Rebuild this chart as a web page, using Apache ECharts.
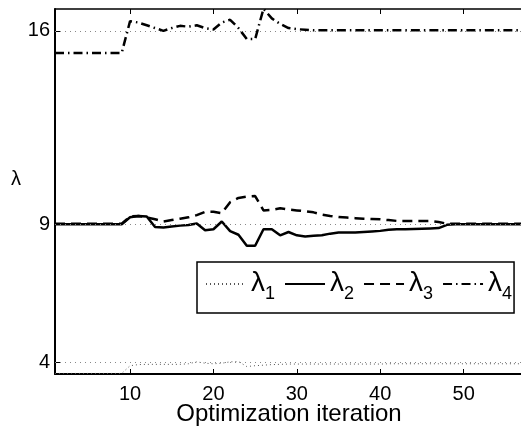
<!DOCTYPE html>
<html>
<head>
<meta charset="utf-8">
<script src="https://cdn.jsdelivr.net/npm/echarts@6/dist/echarts.min.js"></script>
<style>
  html, body { margin: 0; padding: 0; background: #fff; }
  #chart { width: 521px; height: 428px; }
</style>
</head>
<body>
<div id="chart"></div>
<script>
// Data
var iterations = [1,2,3,4,5,6,7,8,9,10,11,12,13,14,15,16,17,18,19,20,21,22,23,24,25,26,27,28,29,30,31,32,33,34,35,36,37,38,39,40,41,42,43,44,45,46,47,48,49,50,51,52,53,54,55,56,57];

var lambda1 = [3.6,3.6,3.6,3.6,3.6,3.6,3.6,3.6,3.6,3.88,3.92,3.93,3.93,3.93,3.93,3.93,3.95,4.02,3.97,3.95,3.97,4.02,4.03,3.85,3.88,3.9,3.92,3.93,3.94,3.94,3.94,3.94,3.94,3.94,3.94,3.94,3.94,3.94,3.94,3.94,3.95,3.95,3.95,3.95,3.95,3.95,3.95,3.95,3.95,3.95,3.95,3.95,3.95,3.95,3.95,3.95,3.95];

var lambda2 = [9.0,9.0,9.0,9.0,9.0,9.0,9.0,9.0,9.0,9.25,9.3,9.28,8.9,8.88,8.92,8.95,8.97,9.03,8.78,8.82,9.1,8.75,8.62,8.22,8.22,8.82,8.82,8.6,8.72,8.6,8.56,8.58,8.6,8.66,8.7,8.7,8.7,8.72,8.74,8.76,8.8,8.82,8.82,8.83,8.84,8.85,8.86,8.98,9.0,9.0,9.0,9.0,9.0,9.0,9.0,9.0,9.0];

var lambda3 = [9.02,9.02,9.02,9.02,9.02,9.02,9.02,9.02,9.02,9.28,9.3,9.25,9.18,9.1,9.15,9.2,9.25,9.33,9.45,9.45,9.4,9.8,9.95,10.0,10.02,9.5,9.52,9.58,9.53,9.5,9.47,9.43,9.35,9.3,9.26,9.24,9.22,9.2,9.19,9.18,9.15,9.12,9.12,9.12,9.12,9.12,9.08,9.02,9.02,9.02,9.02,9.02,9.02,9.02,9.02,9.02,9.02];

var lambda4 = [15.2,15.2,15.2,15.2,15.2,15.2,15.2,15.2,15.2,16.35,16.3,16.2,16.1,16.0,16.1,16.18,16.15,16.2,16.1,16.05,16.3,16.4,16.1,15.7,15.7,16.8,16.45,16.25,16.1,16.06,16.04,16.02,16.02,16.02,16.02,16.02,16.02,16.02,16.02,16.02,16.02,16.02,16.02,16.02,16.02,16.02,16.02,16.02,16.02,16.02,16.02,16.02,16.02,16.02,16.02,16.02,16.02];

var referenceValues = [4, 9, 16];
var yTickValues = [4, 9, 16];
var xTickValues = [10, 20, 30, 40, 50];
var seriesNames = ['λ1', 'λ2', 'λ3', 'λ4'];
var xTitle = 'Optimization iteration';
var yTitle = 'λ';

function pairs(vals) {
  return vals.map(function (v, i) { return [iterations[i], v]; });
}

var FONT = 'Liberation Sans, Arial, Helvetica, sans-serif';
var chart = echarts.init(document.getElementById('chart'), null, { renderer: 'canvas' });

var axisLineStyle = { color: '#000', width: 2 };

var option = {
  animation: false,
  backgroundColor: '#fff',
  grid: { left: 55, top: 9, right: -1, bottom: 54, containLabel: false, outerBoundsMode: 'none' },
  xAxis: [{
    type: 'value', min: 1, max: 57, position: 'bottom',
    axisLine: { show: true, lineStyle: axisLineStyle },
    axisTick: { show: true, inside: true, length: 5, customValues: xTickValues, lineStyle: { color: '#000', width: 1 } },
    axisLabel: { customValues: xTickValues, fontFamily: FONT, fontSize: 20, color: '#000', margin: 10 },
    splitLine: { show: false }
  }, {
    type: 'value', min: 1, max: 57, position: 'top',
    axisLine: { show: true, lineStyle: { color: '#000', width: 1.5 } },
    axisTick: { show: true, inside: true, length: 5, customValues: xTickValues, lineStyle: { color: '#000', width: 1 } },
    axisLabel: { show: false },
    splitLine: { show: false }
  }],
  yAxis: [{
    type: 'value', min: 3.58, max: 16.79,
    axisLine: { show: true, lineStyle: axisLineStyle },
    axisTick: { show: true, inside: true, length: 5, customValues: yTickValues, lineStyle: { color: '#000', width: 1 } },
    axisLabel: { customValues: yTickValues, fontFamily: FONT, fontSize: 20, color: '#000', margin: 5 },
    splitLine: { show: false }
  }],
  legend: {
    left: 197, top: 262,
    orient: 'horizontal',
    data: seriesNames,
    itemWidth: 40, itemHeight: 14, itemGap: 9,
    backgroundColor: '#fff',
    borderColor: '#000', borderWidth: 1.5, borderRadius: 0,
    padding: [3, 2, 10, 8],
    itemStyle: { opacity: 0 },
    formatter: function (name) {
      return '{l|λ}{s|' + name.slice(1) + '}';
    },
    textStyle: {
      color: '#000',
      rich: {
        l: { fontFamily: FONT, fontSize: 28, color: '#000', lineHeight: 30, verticalAlign: 'top' },
        s: { fontFamily: FONT, fontSize: 18, color: '#000', lineHeight: 18, padding: [20, 0, 0, 0] }
      }
    }
  },
  graphic: [{
    type: 'text', left: 11, top: 169,
    style: { text: yTitle, font: '20px ' + FONT, fill: '#000' }
  }, {
    type: 'text', x: 289, y: 402,
    style: { text: xTitle, font: '24px ' + FONT, fill: '#000', align: 'center', verticalAlign: 'top' }
  }],
  series: [{
    name: seriesNames[0], type: 'line', data: pairs(lambda1),
    symbol: 'none', lineStyle: { color: '#555', width: 1, type: [1, 3] },
    markLine: {
      silent: true, symbol: 'none', label: { show: false },
      lineStyle: { color: '#888', width: 1, type: [1, 4] },
      data: referenceValues.map(function (v) { return { yAxis: v }; })
    },
    z: 2
  }, {
    name: seriesNames[1], type: 'line', data: pairs(lambda2),
    symbol: 'none', lineStyle: { color: '#000', width: 2.5 }, z: 3
  }, {
    name: seriesNames[2], type: 'line', data: pairs(lambda3),
    symbol: 'none', lineStyle: { color: '#000', width: 2.5, type: [10, 6] }, z: 3
  }, {
    name: seriesNames[3], type: 'line', data: pairs(lambda4),
    symbol: 'none', lineStyle: { color: '#000', width: 2.5, type: [9, 4, 1.5, 4] }, z: 3
  }]
};
chart.setOption(option);
</script>
</body>
</html>
